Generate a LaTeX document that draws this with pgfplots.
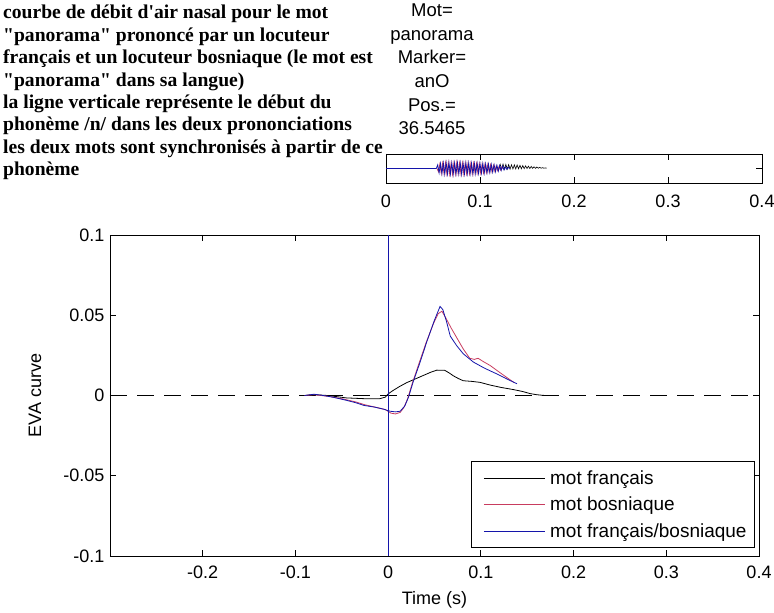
\documentclass[border=0pt]{standalone}
\usepackage{pgfplots}
\pgfplotsset{compat=1.18}
\usepackage{fontspec}
\setmainfont{Liberation Sans}
\newfontfamily\titlefont{Liberation Serif}
\definecolor{mblue}{RGB}{20,20,170}
\definecolor{mred}{RGB}{200,60,95}
\begin{document}
\begin{tikzpicture}[x=1pt,y=1pt]
\path[use as bounding box] (0,0) rectangle (774,613);
% header text
\node[anchor=north west, inner sep=0pt, align=left, font=\titlefont\bfseries\fontsize{19.6}{22.4}\selectfont]
  at (3,608) {courbe de débit d'air nasal pour le mot\\
"panorama" prononcé par un locuteur\\
français et un locuteur bosniaque (le mot est\\
"panorama" dans sa langue)\\
la ligne verticale représente le début du\\
phonème /n/ dans les deux prononciations\\
les deux mots sont synchronisés à partir de ce\\
phonème};
\node[anchor=north, inner sep=0pt, align=center, font=\fontsize{18.5}{23.7}\selectfont]
  at (432,609.5) {Mot=\\panorama\\Marker=\\anO\\Pos.=\\36.5465};

% small overview axis
\begin{axis}[
  at={(386pt,430pt)}, anchor=south west, scale only axis,
  width=376pt, height=29pt,
  xmin=0, xmax=0.4, ymin=-1, ymax=1,
  xtick={0,0.1,0.2,0.3,0.4}, xticklabels={0,0.1,0.2,0.3,0.4},
  ytick={0}, yticklabels={},
  tick align=inside, major tick length=6pt,
  tick style={black, line width=0.8pt},
  axis line style={line width=0.8pt},
  ticklabel style={font=\fontsize{18}{20}\selectfont},
  xticklabel style={yshift=-8pt},
]
\addplot[black, line width=0.6pt] coordinates {
  (0.120,0.0) (0.1215,0.28) (0.123,-0.05) (0.1245,0.3) (0.126,-0.05) (0.1275,0.28)
  (0.129,-0.04) (0.1305,0.27) (0.132,-0.04) (0.1335,0.26) (0.135,-0.03) (0.1365,0.25)
  (0.138,-0.03) (0.1395,0.24) (0.141,-0.02) (0.1425,0.22) (0.144,-0.02) (0.1455,0.2)
  (0.147,-0.01) (0.1485,0.18) (0.150,0) (0.1515,0.16) (0.153,0) (0.1545,0.14)
  (0.156,0.01) (0.1575,0.12) (0.159,0.01) (0.1605,0.1) (0.162,0.02) (0.1635,0.08)
  (0.165,0.02) (0.1665,0.06) (0.168,0.02) (0.1695,0.04) (0.171,0.02)
};
\addplot[mred, line width=0.8pt] coordinates {
  (0.05425,0) (0.05575,-0.22) (0.05725,0.3) (0.05875,-0.33) (0.06025,0.36)
  (0.06175,-0.37) (0.06325,0.39) (0.06475,-0.38) (0.06625,0.4) (0.06775,-0.39)
  (0.06925,0.38) (0.07075,-0.4) (0.07225,0.39) (0.07375,-0.38) (0.07525,0.4)
  (0.07675,-0.37) (0.07825,0.38) (0.07975,-0.39) (0.08125,0.37) (0.08275,-0.38)
  (0.08425,0.38) (0.08575,-0.36) (0.08725,0.37) (0.08875,-0.36) (0.09025,0.35)
  (0.09175,-0.36) (0.09325,0.35) (0.09475,-0.34) (0.09625,0.34) (0.09775,-0.33)
  (0.09925,0.33) (0.10075,-0.32) (0.10225,0.31) (0.10375,-0.3) (0.10525,0.3)
  (0.10675,-0.28) (0.10825,0.27) (0.10975,-0.25) (0.11125,0.25) (0.11275,-0.22)
  (0.11425,0.22) (0.11575,-0.18) (0.11725,0.18) (0.11875,-0.14) (0.12025,0.14)
  (0.12175,-0.1) (0.12325,0.1) (0.12475,0)
};
\addplot[mblue, line width=0.8pt] coordinates {
  (0,0) (0.0535,0) (0.055,0.25) (0.0565,-0.3) (0.058,0.34) (0.0595,-0.36) (0.061,0.38)
  (0.0625,-0.38) (0.064,0.4) (0.0655,-0.38) (0.067,0.4) (0.0685,-0.39) (0.070,0.38)
  (0.0715,-0.4) (0.073,0.39) (0.0745,-0.38) (0.076,0.4) (0.0775,-0.37) (0.079,0.38)
  (0.0805,-0.4) (0.082,0.37) (0.0835,-0.38) (0.085,0.39) (0.0865,-0.36) (0.088,0.38)
  (0.0895,-0.37) (0.091,0.36) (0.0925,-0.37) (0.094,0.36) (0.0955,-0.35) (0.097,0.36)
  (0.0985,-0.34) (0.100,0.35) (0.1015,-0.33) (0.103,0.34) (0.1045,-0.32) (0.106,0.32)
  (0.1075,-0.3) (0.109,0.3) (0.1105,-0.28) (0.112,0.28) (0.1135,-0.25) (0.115,0.26)
  (0.1165,-0.22) (0.118,0.22) (0.1195,-0.18) (0.121,0.2) (0.1225,-0.14) (0.124,0.16)
  (0.1255,-0.1) (0.127,0.12) (0.1285,-0.06) (0.130,0.08) (0.1315,0)
};
\end{axis}

% main axis
\begin{axis}[
  at={(110pt,57pt)}, anchor=south west, scale only axis,
  width=649pt, height=321pt,
  xmin=-0.3, xmax=0.4, ymin=-0.1, ymax=0.1,
  xtick={-0.2,-0.1,0,0.1,0.2,0.3,0.4},
  xticklabels={-0.2,-0.1,0,0.1,0.2,0.3,0.4},
  ytick={-0.1,-0.05,0,0.05,0.1},
  yticklabels={-0.1,-0.05,0,0.05,0.1},
  tick align=inside, major tick length=6pt,
  tick style={black, line width=0.8pt},
  axis line style={line width=0.8pt},
  ticklabel style={font=\fontsize{18}{20}\selectfont},
  xticklabel style={yshift=-6pt},
  yticklabel style={xshift=-2pt},
  xlabel={Time (s)}, ylabel={EVA curve},
  label style={font=\fontsize{18}{20}\selectfont},
  xlabel style={at={(axis description cs:0.5,-0.137)}, anchor=center},
  ylabel style={at={(axis description cs:-0.1156,0.5)}, anchor=center},
  legend cell align=left,
  legend style={at={(1,0)}, anchor=south east, xshift=-4pt, yshift=8pt,
    line width=0.8pt, font=\fontsize{19}{21}\selectfont,
    row sep=7pt, inner xsep=6pt, inner ysep=7pt},
  legend image code/.code={\draw[#1, shorten <=6pt, shorten >=3pt] (-6pt,0pt) -- (64pt,0pt);},
]
\addlegendimage{draw=black, line width=0.8pt}
\addlegendentry{mot français}
\addlegendimage{draw=mred, line width=0.8pt}
\addlegendentry{mot bosniaque}
\addlegendimage{draw=mblue, line width=0.8pt}
\addlegendentry{mot français/bosniaque}
\addplot[black, line width=0.8pt, dash pattern=on 17pt off 10pt, forget plot]
  coordinates {(-0.3,0) (0.4,0)};
\addplot[black, line width=0.8pt, forget plot] coordinates {
  (-0.09,0) (-0.08,0.0005) (-0.065,0) (-0.045,-0.0015) (-0.025,-0.002)
  (-0.009,-0.002) (-0.003,-0.001) (0,0.001) (0.005,0.003) (0.012,0.0055)
  (0.02,0.008) (0.03,0.0105) (0.038,0.0125) (0.046,0.0145) (0.0525,0.0158)
  (0.061,0.0157) (0.066,0.014) (0.0705,0.0122) (0.076,0.0105) (0.081,0.0092)
  (0.09,0.0088) (0.099,0.0082) (0.11,0.0065) (0.122,0.005) (0.135,0.0037)
  (0.145,0.0025) (0.153,0.0012) (0.16,0.0005) (0.169,0.0)
};
\addplot[mred, line width=0.8pt, forget plot] coordinates {
  (-0.09,0) (-0.08,0.0005) (-0.065,-0.0005) (-0.05,-0.002) (-0.035,-0.004)
  (-0.025,-0.0058) (-0.012,-0.0075) (-0.003,-0.0088) (0.003,-0.011) (0.008,-0.0115)
  (0.013,-0.0105) (0.017,-0.0075) (0.021,-0.002) (0.026,0.0075) (0.033,0.0195)
  (0.041,0.033) (0.049,0.045) (0.054,0.051) (0.058,0.0525) (0.0625,0.048)
  (0.068,0.042) (0.074,0.036) (0.081,0.029) (0.088,0.0232) (0.093,0.0225)
  (0.097,0.0232) (0.103,0.021) (0.11,0.0187) (0.12,0.0145) (0.13,0.0104) (0.136,0.008)
};
\addplot[mblue, line width=0.8pt, forget plot] coordinates {
  (-0.09,0) (-0.08,0.0008) (-0.07,0) (-0.06,-0.001) (-0.045,-0.003)
  (-0.035,-0.0045) (-0.026,-0.0062) (-0.015,-0.0072) (-0.005,-0.0085) (0.002,-0.0098)
  (0.008,-0.0102) (0.013,-0.0098) (0.018,-0.0065) (0.022,-0.001) (0.027,0.0085)
  (0.034,0.02) (0.042,0.034) (0.05,0.047) (0.056,0.0555) (0.059,0.0535)
  (0.063,0.046) (0.067,0.037) (0.074,0.031) (0.081,0.026) (0.092,0.0208)
  (0.104,0.017) (0.117,0.0135) (0.128,0.0103) (0.139,0.0073)
};
\addplot[mblue, line width=0.8pt, forget plot] coordinates {(0,-0.1) (0,0.1)};
\end{axis}
\end{tikzpicture}
\end{document}
